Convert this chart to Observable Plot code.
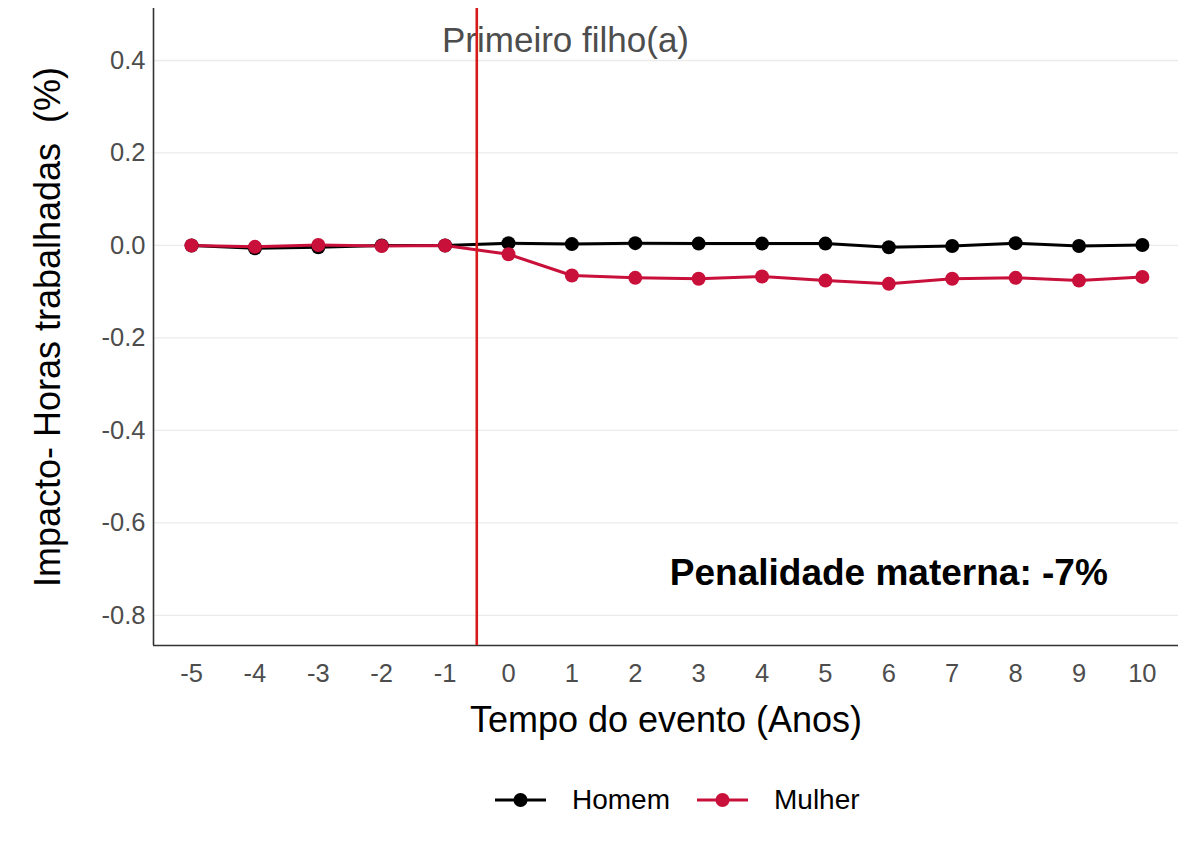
<!DOCTYPE html>
<html>
<head>
<meta charset="utf-8">
<script src="https://cdn.jsdelivr.net/npm/d3@7"></script>
<script src="https://cdn.jsdelivr.net/npm/@observablehq/plot@0.6"></script>
<style>
  html, body { margin: 0; padding: 0; background: #fff; }
  body { width: 1185px; height: 847px; font-family: "Liberation Sans", Arial, sans-serif; overflow: hidden; }
  #chart svg { display: block; }
  #legend { position: relative; height: 80px; }
  .item { position: absolute; top: 25px; height: 30px; display: flex; align-items: center; font-size: 28px; color: #000; }
  .item svg { margin-right: 26px; }
</style>
</head>
<body>
<div id="chart"></div>
<div id="legend"></div>
<script>
const anos = [-5, -4, -3, -2, -1, 0, 1, 2, 3, 4, 5, 6, 7, 8, 9, 10];
const homem = [0.000, -0.006, -0.004, 0.000, 0.000, 0.005, 0.003, 0.005, 0.004, 0.004, 0.004, -0.004, -0.001, 0.005, -0.001, 0.001];
const mulher = [0.000, -0.003, 0.001, -0.001, 0.000, -0.019, -0.065, -0.070, -0.072, -0.067, -0.076, -0.083, -0.072, -0.070, -0.076, -0.068];
const yTicks = [0.4, 0.2, 0.0, -0.2, -0.4, -0.6, -0.8];
const series = ["Homem", "Mulher"];
const cores = ["#000000", "#C8103A"];
const evento = -0.5;
const rotuloEvento = "Primeiro filho(a)";
const penalidade = "Penalidade materna: -7%";
const tituloY = "Impacto- Horas trabalhadas  (%)";
const tituloX = "Tempo do evento (Anos)";

const data = [];
anos.forEach((a, i) => {
  data.push({ano: a, valor: homem[i], grupo: "Homem"});
});
anos.forEach((a, i) => {
  data.push({ano: a, valor: mulher[i], grupo: "Mulher"});
});

const chart = Plot.plot({
  width: 1185,
  height: 760,
  marginLeft: 153,
  marginRight: 7,
  marginTop: 8,
  marginBottom: 115,
  style: { fontFamily: "Liberation Sans, Arial, sans-serif", background: "#fff" },
  x: { domain: [-5.6, 10.57] },
  y: { domain: [-0.865, 0.5124] },
  color: { domain: series, range: cores },
  marks: [
    Plot.gridY(yTicks, { stroke: "#ebebeb", strokeOpacity: 1, strokeWidth: 1.3 }),
    Plot.axisY(yTicks, { tickSize: 0, tickPadding: 8, fontSize: 25.5, fill: "#4d4d4d", label: null, tickFormat: d => d.toFixed(1) }),
    Plot.axisX(anos, { tickSize: 0, tickPadding: 18, fontSize: 25.5, fill: "#4d4d4d", label: null, tickFormat: d => String(d) }),
    Plot.ruleX([0], { x: () => -5.6, stroke: "#333", strokeWidth: 1.6 }),
    Plot.ruleY([0], { y: () => -0.865, stroke: "#333", strokeWidth: 1.6 }),
    Plot.text([rotuloEvento], { x: 0.9, y: 0.443, text: d => d, fontSize: 35, fill: "#4d4d4d" }),
    Plot.line(data, { x: "ano", y: "valor", stroke: "grupo", z: "grupo", strokeWidth: 3 }),
    Plot.dot(data, { x: "ano", y: "valor", fill: "grupo", r: 7 }),
    Plot.ruleX([evento], { stroke: "#D7191C", strokeWidth: 2.6 }),
    Plot.text([penalidade], { x: 6.0, y: -0.709, text: d => d, fontSize: 37, fontWeight: "bold", fill: "#000" }),
    Plot.text([tituloY], { frameAnchor: "left", dx: -105, rotate: -90, textAnchor: "middle", text: d => d, fontSize: 36, fill: "#000" }),
    Plot.text([tituloX], { frameAnchor: "bottom", dy: 86, text: d => d, fontSize: 36, fill: "#000" })
  ]
});
document.getElementById("chart").appendChild(chart);

const legend = document.getElementById("legend");
const lefts = [495, 697];
series.forEach((s, i) => {
  const div = document.createElement("div");
  div.className = "item";
  div.style.left = lefts[i] + "px";
  div.innerHTML = `<svg width="51" height="20"><line x1="0" x2="51" y1="10" y2="10" stroke="${cores[i]}" stroke-width="3"/><circle cx="25.5" cy="10" r="7" fill="${cores[i]}"/></svg><span>${s}</span>`;
  legend.appendChild(div);
});
</script>
</body>
</html>
